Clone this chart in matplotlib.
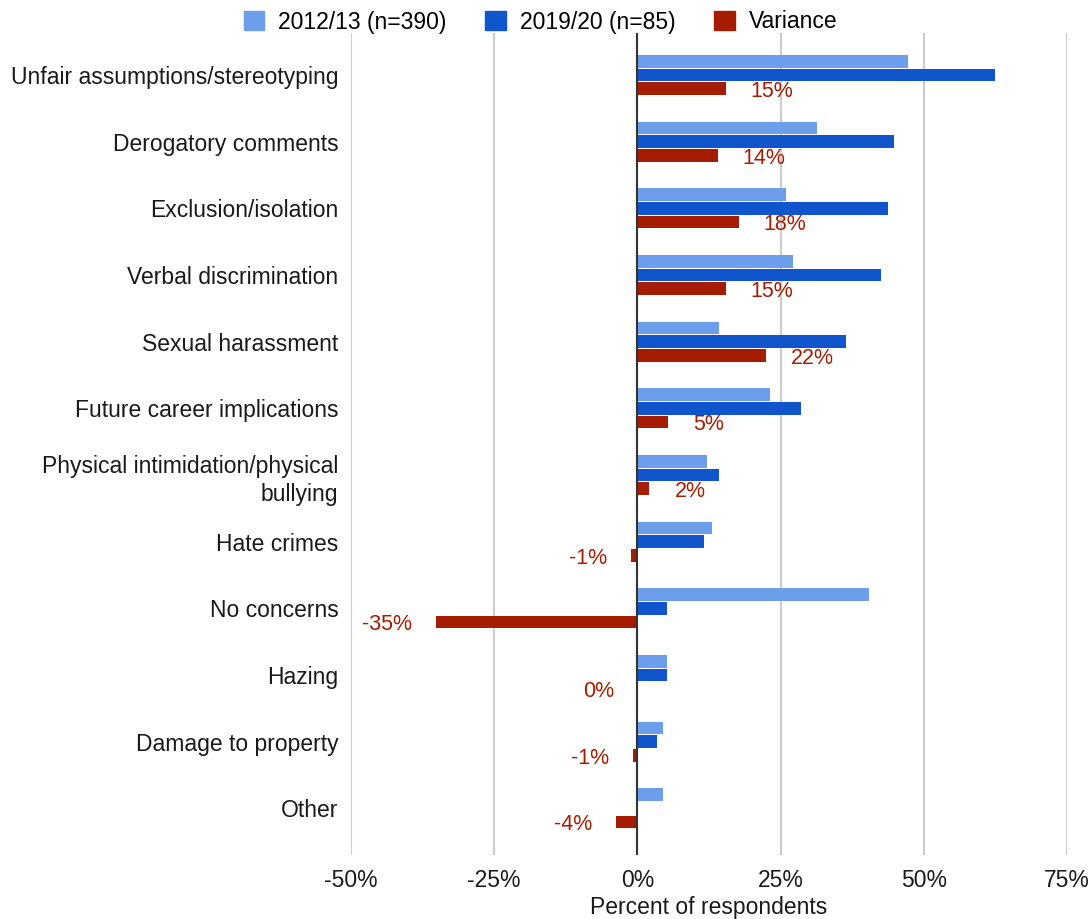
import numpy as np
import matplotlib
matplotlib.use("Agg")
import matplotlib.pyplot as plt
from matplotlib.patches import Patch

plt.rcParams['font.family'] = ['Liberation Sans', 'DejaVu Sans']

categories = ['Unfair assumptions/stereotyping', 'Derogatory comments',
              'Exclusion/isolation', 'Verbal discrimination', 'Sexual harassment',
              'Future career implications', 'Physical intimidation/physical\nbullying',
              'Hate crimes', 'No concerns', 'Hazing', 'Damage to property', 'Other']
y2012 = [47.2, 31.3, 26.0, 27.1, 14.2, 23.1, 12.1, 13.1, 40.4, 5.1, 4.4, 4.4]
y2019 = [62.4, 44.8, 43.7, 42.5, 36.5, 28.5, 14.2, 11.7, 5.1, 5.1, 3.5, 0.0]
variance = [15.4, 14.0, 17.7, 15.4, 22.4, 5.4, 2.1, -1.2, -35.2, 0.0, -0.8, -3.8]
var_labels = ['15%', '14%', '18%', '15%', '22%', '5%', '2%', '-1%', '-35%', '0%', '-1%', '-4%']

c12, c19, cvar = '#6d9eeb', '#1155cc', '#a61c00'
fs = 16.5
txt = '#1a1a1a'

fig = plt.figure(figsize=(10.92, 9.19), dpi=100)
ax = fig.add_axes([351/1092, 1-855/919, (1067-351)/1092, (855-33)/919])

y = np.arange(len(categories))
h = 0.19
step = 0.205
ax.barh(y - step, y2012, height=h, color=c12, zorder=3)
ax.barh(y, y2019, height=h, color=c19, zorder=3)
ax.barh(y + step, variance, height=h, color=cvar, zorder=3)

# variance labels: right of positive bars, left of zero/negative bars
for yi, v, lab in zip(y, variance, var_labels):
    if v > 0:
        ax.annotate(lab, (v, yi + step + 0.04), xytext=(18, 0), textcoords='offset points',
                    ha='left', va='center', color=cvar, fontsize=15.5)
    else:
        ax.annotate(lab, (v, yi + step + 0.04), xytext=(-17, 0), textcoords='offset points',
                    ha='right', va='center', color=cvar, fontsize=15.5)

ax.set_xlim(-50, 75)
ax.set_ylim(len(categories) - 1 + 0.7, -0.63)
ax.set_xticks([-50, -25, 0, 25, 50, 75])
ax.set_xticklabels(['-50%', '-25%', '0%', '25%', '50%', '75%'], fontsize=fs, color=txt)
ax.set_yticks(y)
ax.set_yticklabels(categories, fontsize=fs, color=txt, linespacing=1.3)
ax.tick_params(length=0)
ax.tick_params(axis='y', pad=9)
ax.tick_params(axis='x', pad=10)
ax.grid(axis='x', color='#cccccc', linewidth=1.5, zorder=0)
ax.axvline(0, color='#333333', linewidth=1.5, zorder=4)
for s in ax.spines.values():
    s.set_visible(False)
ax.set_xlabel('Percent of respondents', fontsize=fs, color=txt, labelpad=3)

handles = [Patch(color=c12, label='2012/13 (n=390)'),
           Patch(color=c19, label='2019/20 (n=85)'),
           Patch(color=cvar, label='Variance')]
fig.legend(handles=handles, loc='center', bbox_to_anchor=(0.495, 1-22/919), ncol=3,
           frameon=False, fontsize=fs, handlelength=0.9, handleheight=0.9,
           columnspacing=1.7, handletextpad=0.6)

fig.savefig('out.png', dpi=100, facecolor='white')
